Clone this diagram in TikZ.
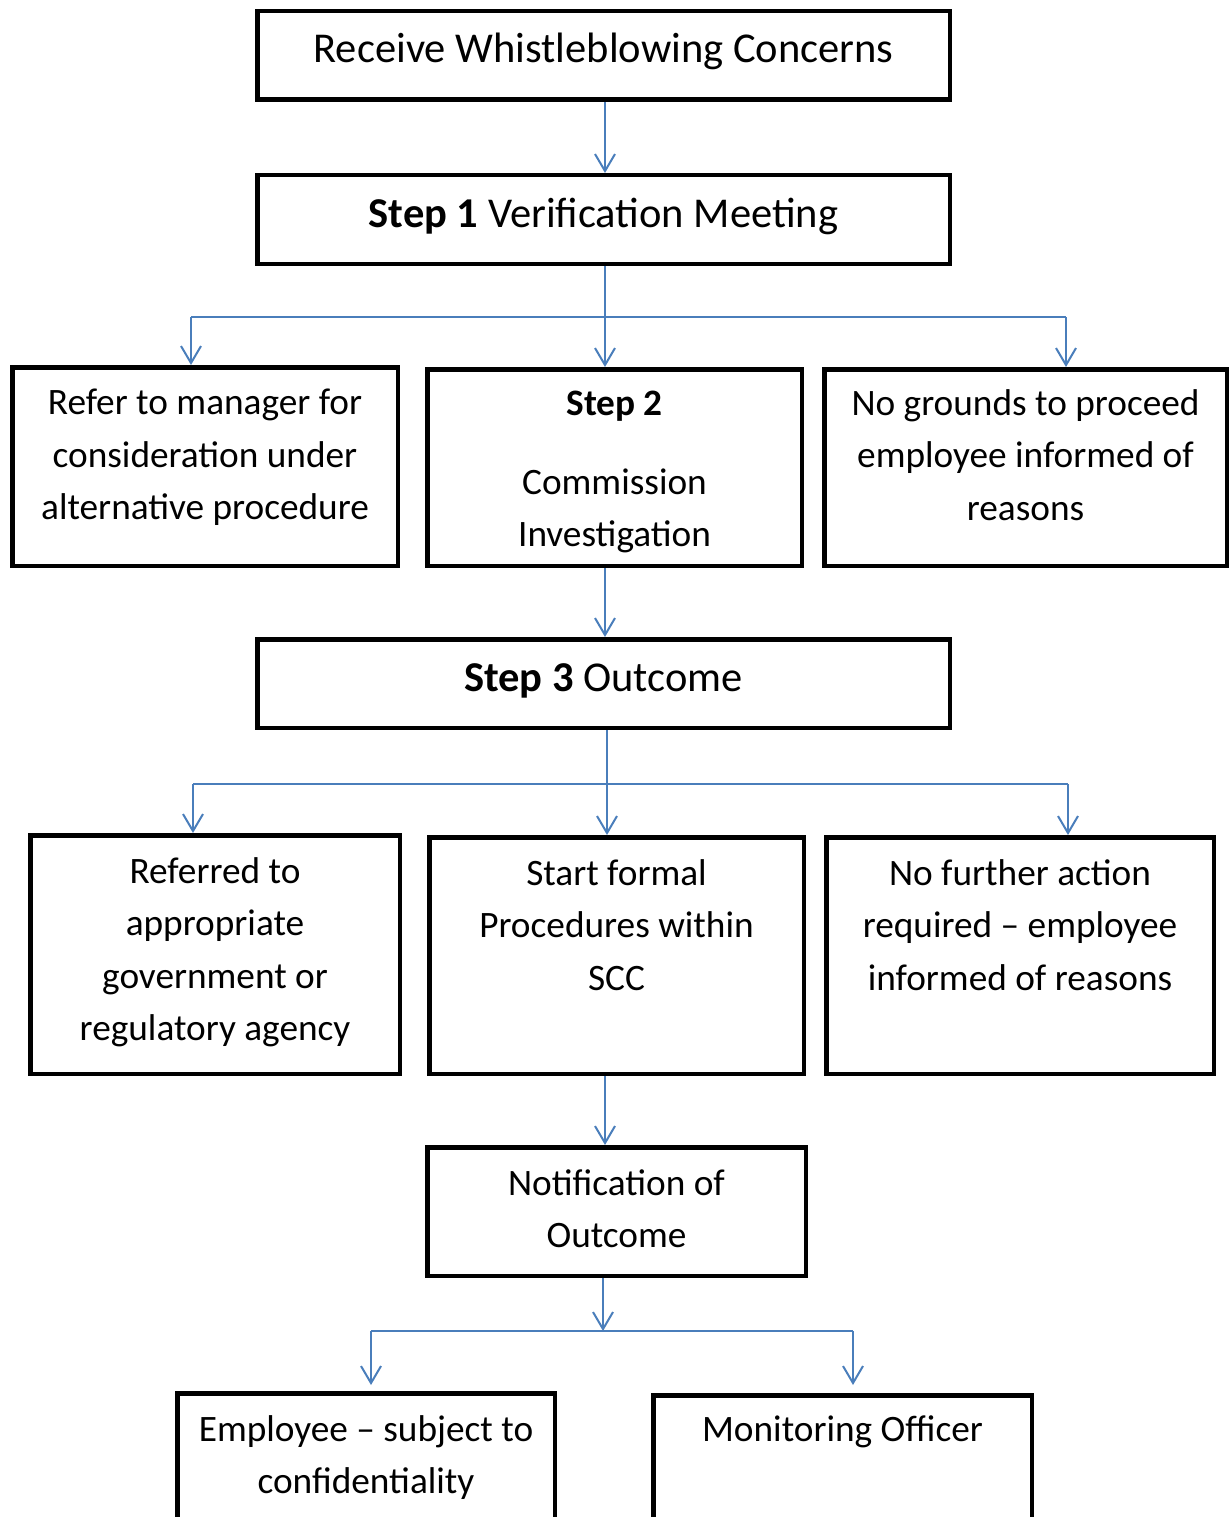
\documentclass[tikz,border=0pt]{standalone}
\usepackage{fontspec}
\setmainfont{Carlito}
\usetikzlibrary{arrows.meta,calc}
\definecolor{wbedge}{HTML}{000000}
\definecolor{wblink}{HTML}{4A7EBB}
\tikzset{
  box/.style   = {rectangle, draw=wbedge, line width=4.5pt, inner sep=0pt},
  wide/.style  = {box, minimum width=692.5pt, minimum height=88.5pt},
  % first line carries a strut, so the node top sits a fixed distance above its baseline
  txt/.style   = {anchor=north, align=center, inner sep=0pt,
                  font=\fontsize{37.3}{52.5}\selectfont, execute at begin node=\strut},
  head/.style  = {txt, font=\fontsize{42.5}{52}\selectfont},
  link/.style  = {draw=wblink, line width=2pt},
  flow/.style  = {link, -{Straight Barb[length=17pt,width=20pt]}},
}
\begin{document}
\begin{tikzpicture}[x=1pt, y=-1pt]
\clip (0,0) rectangle (1231,1517);
% boxes
\node[wide] (recv)  at (603.5,55.5)  {};
\node[wide] (step1) at (603.5,219.5) {};
\node[box, minimum width=385.5pt, minimum height=198.5pt] (refer)     at (205,466.5)   {};
\node[box, minimum width=374.5pt, minimum height=196.5pt] (step2)     at (614.5,467.5) {};
\node[box, minimum width=402.5pt, minimum height=196.5pt] (nogrounds) at (1025.5,467.5) {};
\node[wide] (step3) at (603.5,683.5) {};
\node[box, minimum width=369.5pt, minimum height=238.5pt] (referred)  at (215,954.5)   {};
\node[box, minimum width=374.5pt, minimum height=236.5pt] (formal)    at (616.5,955.5) {};
\node[box, minimum width=387.5pt, minimum height=236.5pt] (nofurther) at (1020,955.5)  {};
\node[box, minimum width=378.5pt, minimum height=128.5pt] (notify)    at (616.5,1211.5) {};
\node[box, minimum width=377.5pt, minimum height=200pt]   (employee)  at (366,1493.25)  {};
\node[box, minimum width=378.5pt, minimum height=200pt]   (monitor)   at (842.5,1495.25) {};
% texts
\node[head] (recv-t)  at ([yshift=-16.5pt]recv.north)  {Receive Whistleblowing Concerns};
\node[head] (step1-t) at ([yshift=-17.5pt]step1.north) {\textbf{Step 1} Verification Meeting};
\node[head] (step3-t) at ([yshift=-17.5pt]step3.north) {\textbf{Step 3} Outcome};
\node[txt] (refer-t)     at ([yshift=-24pt]refer.north)     {Refer to manager for\\consideration under\\alternative procedure};
\node[txt] (step2-t)     at ([yshift=-24pt]step2.north)     {\textbf{Step 2}\\[26pt]Commission\\Investigation};
\node[txt] (nogrounds-t) at ([yshift=-22pt]nogrounds.north) {No grounds to proceed\\employee informed of\\reasons};
\node[txt] (referred-t)  at ([yshift=-24pt]referred.north)  {Referred to\\appropriate\\government or\\regulatory agency};
\node[txt] (formal-t)    at ([yshift=-24pt]formal.north)    {Start formal\\Procedures within\\SCC};
\node[txt] (nofurther-t) at ([yshift=-24pt]nofurther.north) {No further action\\required – employee\\informed of reasons};
\node[txt] (notify-t)    at ([yshift=-24pt]notify.north)    {Notification of\\Outcome};
\node[txt] (employee-t)  at ([yshift=-24pt]employee.north)  {Employee – subject to\\confidentiality};
\node[txt] (monitor-t)   at ([yshift=-12pt]monitor.north)   {Monitoring Officer};
% connectors
\coordinate (spine) at (605,0);
\coordinate (hub1w) at (191,317);
\coordinate (hub1e) at (1066,317);
\coordinate (hub2)  at (607,784);
\coordinate (hub2w) at (193,784);
\coordinate (hub2e) at (1068,784);
\coordinate (hub3)  at (603,1331);
\coordinate (hub3w) at (371,1331);
\coordinate (hub3e) at (853,1331);
\draw[flow] (recv.south -| spine) -- (step1.north -| spine);
\draw[flow] (step1.south -| spine) -- (step2.north -| spine);
\draw[link] (hub1w) -- (hub1e);
\draw[flow] (hub1w) -- (hub1w |- refer.north);
\draw[flow] (hub1e) -- (hub1e |- nogrounds.north);
\draw[flow] (step2.south -| spine) -- (step3.north -| spine);
\draw[flow] (step3.south -| hub2) -- (formal.north -| hub2);
\draw[link] (hub2w) -- (hub2e);
\draw[flow] (hub2w) -- (hub2w |- referred.north);
\draw[flow] (hub2e) -- (hub2e |- nofurther.north);
\draw[flow] (formal.south -| spine) -- (notify.north -| spine);
\draw[flow] (notify.south -| hub3) -- (hub3);
\draw[link] (hub3w) -- (hub3e);
\draw[flow, shorten >=6pt] (hub3w) -- (hub3w |- employee.north);
\draw[flow, shorten >=8pt] (hub3e) -- (hub3e |- monitor.north);
\end{tikzpicture}
\end{document}
